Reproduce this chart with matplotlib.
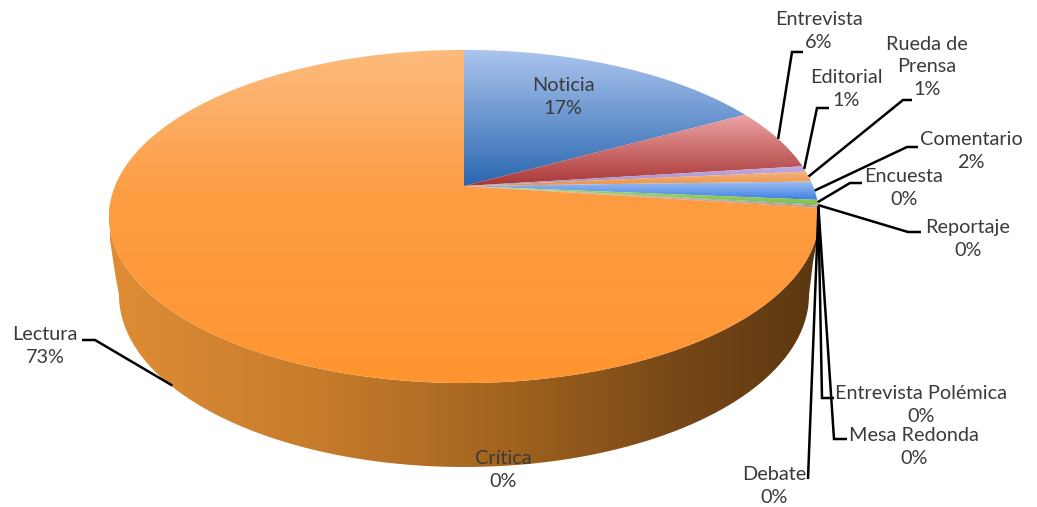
import numpy as np
import matplotlib
matplotlib.use("Agg")
import matplotlib.pyplot as plt
from matplotlib.colors import LinearSegmentedColormap
from matplotlib.path import Path
from matplotlib.patches import PathPatch

categories = ["Noticia", "Entrevista", "Editorial", "Rueda de\nPrensa", "Comentario", "Encuesta",
              "Reportaje", "Entrevista Polémica", "Mesa Redonda", "Debate", "Crítica", "Lectura"]
shares = [17.0, 6.0, 0.55, 1.0, 1.8, 0.45, 0.1, 0.1, 0.05, 0.05, 0.02, 72.88]

# (colour at the top of the slice, colour at the bottom of the slice)
slice_colors = [("#adc6ef", "#2a67b0"), ("#eda6a6", "#a93636"), ("#c3aede", "#a58ccb"),
                ("#f4b68a", "#f0933f"), ("#a6c3f2", "#3b7fe3"), ("#a6d86a", "#82c043"),
                ("#7fd0e0", "#40a8c8"), ("#ffa050", "#f79646"), ("#8fb0e0", "#4f81bd"),
                ("#e09090", "#c0504d"), ("#b0d080", "#9bbb59"), ("#fcbb7d", "#ff9530")]

label_xy = [(563, 97), (819, 31), (846, 89), (927, 67), (971, 151), (904, 188),
            (968, 239), (921, 405), (914, 447), (774, 486), (503, 470), (45, 346)]
# pixel elbows of each leader line, from the slice outwards
leader_paths = [None, [(792, 52), (803, 52)], [(817, 108), (829, 108)], [(903, 100), (912, 100)],
                [(907, 147), (918, 147)], [(850, 183), (862, 183)], [(908, 232), (921, 232)],
                [(822, 398), (834, 398)], [(834, 439), (847, 439)], [(808, 479)], None,
                [(95, 340), (82, 340)]]

W, H = 1037, 507
CX, CY = 464.0, 186.0          # apex of the slices
A, B, K = 349.0, 161.0, 0.183  # perspective projection of the unit disc
DEPTH = 84.0                   # thickness of the disc at the front


def project(theta):
    """Screen position of angle theta (radians, math convention) on the rim."""
    x, y = np.cos(theta), np.sin(theta)
    den = 1 + K * y
    return CX + A * x / den, CY - B * y / den


def clip_gradient(ax, path, stops, horizontal=False, extent=None):
    cmap = LinearSegmentedColormap.from_list("g", stops)
    ramp = np.linspace(0, 1, 256)
    grid = ramp[None, :] if horizontal else ramp[:, None]
    im = ax.imshow(grid, cmap=cmap, vmin=0, vmax=1, aspect="auto", extent=extent,
                   origin="upper", interpolation="bilinear", zorder=2)
    im.set_clip_path(PathPatch(path, transform=ax.transData))


plt.rcParams["font.family"] = ["Lato", "DejaVu Sans"]
fig = plt.figure(figsize=(W / 100, H / 100), dpi=100)
ax = fig.add_axes([0, 0, 1, 1])
ax.set_axis_off()

# Side wall of the disc, shaded left to right; its silhouette rounds into the rim at both ends
t = np.linspace(np.pi, 2 * np.pi, 300)
top_x, top_y = project(np.linspace(np.radians(186), np.radians(354), 300))
wall_cx, wall_cy, wall_rx, wall_ry = CX, 295.0, 345.0, 172.0
bot_x = wall_cx + wall_rx * np.cos(t)
bot_y = wall_cy - wall_ry * np.sin(t)
wall_pts = np.vstack([[(110, 240), (115, 273)], np.c_[bot_x, bot_y], [(813, 262), (817, 240)],
                      np.c_[top_x[::-1], top_y[::-1]]])
wall_pts = np.vstack([wall_pts, wall_pts[0]])
clip_gradient(ax, Path(wall_pts),
              [(0, "#e08c35"), (0.3, "#c67c2c"), (0.55, "#a4651f"), (0.8, "#774817"), (1, "#5c3710")],
              horizontal=True, extent=(108, 818, 480, 200))

# Top face, one slice at a time clockwise from twelve o'clock
total = sum(shares)
edges = np.concatenate([[0], np.cumsum(shares)]) / total
angles = np.pi / 2 - 2 * np.pi * edges
mids = (angles[:-1] + angles[1:]) / 2
for name, a0, a1, colors in zip(categories, angles[:-1], angles[1:], slice_colors):
    n = max(int(abs(a1 - a0) * 150), 4)
    rx, ry = project(np.linspace(a0, a1, n))
    pts = np.vstack([[CX, CY], np.c_[rx, ry], [CX, CY]])
    ys = pts[:, 1]
    if name == "Lectura":  # spans the full height of the face
        stops = [(0, colors[0]), (0.45, "#fd9c42"), (1, colors[1])]
    else:
        stops = list(colors)
    clip_gradient(ax, Path(pts), stops, extent=(100, 830, ys.max() + 0.5, ys.min() - 0.5))

# Data labels and their leader lines
for i, (name, share, xy, elbows) in enumerate(zip(categories, shares, label_xy, leader_paths)):
    ax.text(xy[0], xy[1], f"{name}\n{round(share)}%", ha="center", va="center", fontsize=14.3,
            color="#3a3a3a", linespacing=1.42, zorder=6)
    if elbows is None:
        continue
    sx, sy = project(mids[i])
    if name == "Lectura":  # this leader lands on the wall, below the rim
        sx += 7
        sy += DEPTH - 5
    xs, ys = zip(*([(sx, sy)] + elbows))
    ax.plot(xs, ys, color="black", lw=1.8, solid_capstyle="butt", solid_joinstyle="miter", zorder=5)

ax.set_xlim(0, W)
ax.set_ylim(H, 0)
fig.savefig("out.png", dpi=100, facecolor="white")
